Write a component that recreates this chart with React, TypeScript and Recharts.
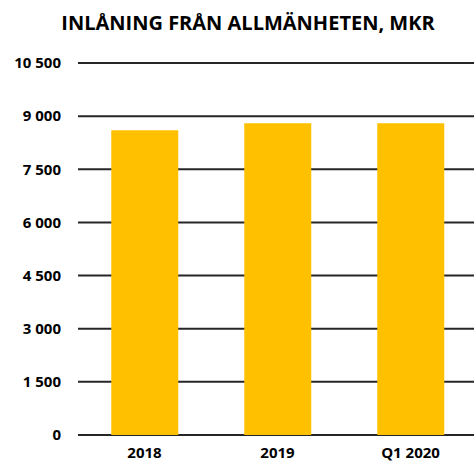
import React from 'react';
import { BarChart, Bar, XAxis, YAxis, CartesianGrid } from 'recharts';

const categories = ['2018', '2019', 'Q1 2020'];
const inlaning = [8600, 8800, 8800];
const yTicks = [0, 1500, 3000, 4500, 6000, 7500, 9000, 10500];

const data = categories.map((name, i) => ({ name, value: inlaning[i] }));

const fmt = (v: number) => v.toLocaleString('sv-SE').replace(/\u00a0/g, ' ');

const App: React.FC = () => {
  return (
    <div style={{ position: 'fixed', left: 0, top: 0, width: 474, height: 465, background: '#fff', fontFamily: '"Open Sans", sans-serif' }}>
      <div
        style={{
          position: 'absolute',
          top: 9,
          left: 0,
          width: 496,
          textAlign: 'center',
          fontSize: 20,
          fontWeight: 700,
          color: '#000',
          whiteSpace: 'nowrap',
        }}
      >
        INLÅNING FRÅN ALLMÄNHETEN, MKR
      </div>
      <BarChart
        width={474}
        height={465}
        data={data}
        margin={{ top: 63, right: -3, left: 0, bottom: 0 }}
        barCategoryGap="25%"
      >
        <CartesianGrid horizontal vertical={false} stroke="#000" strokeWidth={2} strokeOpacity={0.85} />
        <XAxis
          dataKey="name"
          axisLine={false}
          tickLine={false}
          height={30}
          tickMargin={6}
          tick={{ fill: '#000', fontSize: 15, fontWeight: 700 }}
        />
        <YAxis
          width={78}
          domain={[0, 10500]}
          ticks={yTicks}
          axisLine={false}
          tickLine={false}
          tickMargin={11}
          tickFormatter={fmt}
          tick={{ fill: '#000', fontSize: 15, fontWeight: 700 }}
        />
        <Bar dataKey="value" fill="#FFC000" isAnimationActive={false} />
      </BarChart>
    </div>
  );
};

export default App;
